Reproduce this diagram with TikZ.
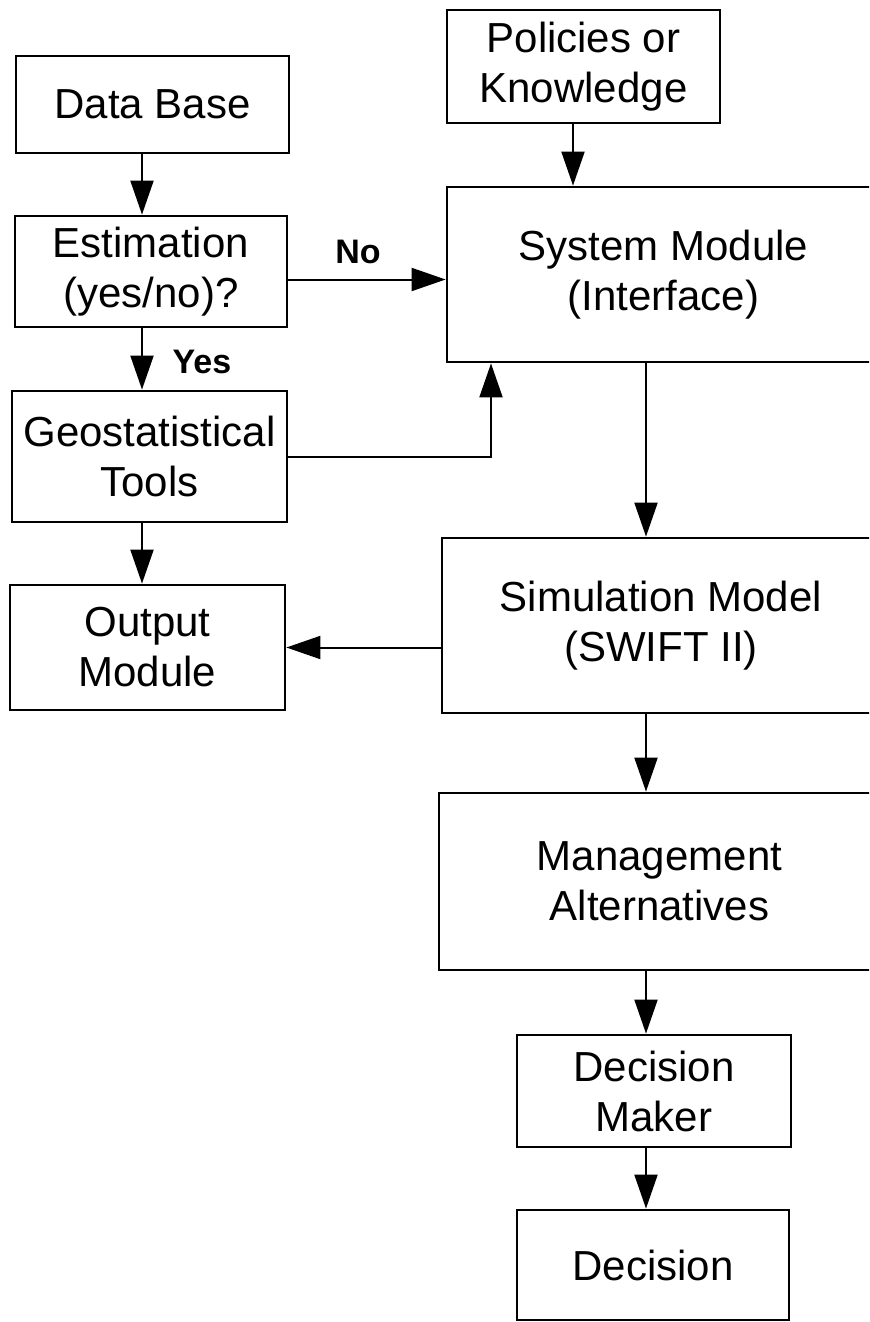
\documentclass[tikz,border=0pt]{standalone}
\usepackage{fontspec}
\setmainfont{Liberation Sans}
\usetikzlibrary{arrows.meta}
\begin{document}
\begin{tikzpicture}[x=0.5pt,y=-0.5pt,
  box/.style={draw,line width=1.4pt,align=center,inner sep=0pt,font=\fontsize{21}{25}\selectfont},
  arr/.style={line width=1pt,-{Triangle[length=17pt,width=11.5pt]}},
  lbl/.style={font=\bfseries\fontsize{17}{20}\selectfont}]
  \useasboundingbox (0,0) rectangle (869,1322); \clip (0,0) rectangle (869,1322);
  % left column
  \node[box,minimum width=136.5pt,minimum height=48.5pt] (db) at (152.5,104.5) {Data Base};
  \node[box,minimum width=136pt,minimum height=55.5pt] (est) at (151,271.5) {Estimation\\(yes/no)?};
  \node[box,minimum width=137.5pt,minimum height=65.5pt] (geo) at (149.5,456.5) {Geostatistical\\Tools};
  \node[box,minimum width=137.5pt,minimum height=62.5pt] (out) at (147.5,647.5) {Output\\Module};
  % right column
  \node[box,minimum width=136.5pt,minimum height=56.5pt] (pol) at (583.5,66.5) {Policies or\\Knowledge};
  \node[box,minimum width=216.5pt,minimum height=87.5pt] (sys) at (663.5,274.5) {System Module\\(Interface)};
  \node[box,minimum width=219pt,minimum height=87.5pt] (sim) at (661,625.5) {Simulation Model\\(SWIFT II)};
  \node[box,minimum width=220.5pt,minimum height=88.5pt] (mgmt) at (659.5,881.5) {Management\\Alternatives};
  \node[box,minimum width=137pt,minimum height=56pt] (dm) at (654,1091) {Decision\\Maker};
  \node[box,minimum width=136pt,minimum height=55pt] (dec) at (653,1265) {Decision};
  \node[lbl] (no) at (358,252) {No}; \node[lbl] (yes) at (202,362) {Yes};
  % connectors
  \coordinate (lx) at (142,0); \coordinate (rx) at (646,0); \coordinate (px) at (573,0); \coordinate (jn) at (491,0);
  \draw[arr] (lx |- db.south) -- (lx |- est.north); \draw[arr] (lx |- est.south) -- (lx |- geo.north);
  \draw[arr] (lx |- geo.south) -- (lx |- out.north);
  \draw[arr] ([yshift=-4pt]est.east) -- ([yshift=-4pt]est.east -| sys.west);
  \draw[arr] (px |- pol.south) -- (px |- sys.north);
  \draw[arr] (geo.east) -| (jn |- sys.south);
  \draw[arr] (rx |- sys.south) -- (rx |- sim.north); \draw[arr] (sim.west |- out.east) -- (out.east);
  \draw[arr] (rx |- sim.south) -- (rx |- mgmt.north); \draw[arr] (rx |- mgmt.south) -- (rx |- dm.north);
  \draw[arr] (rx |- dm.south) -- (rx |- dec.north);
\end{tikzpicture}
\end{document}
